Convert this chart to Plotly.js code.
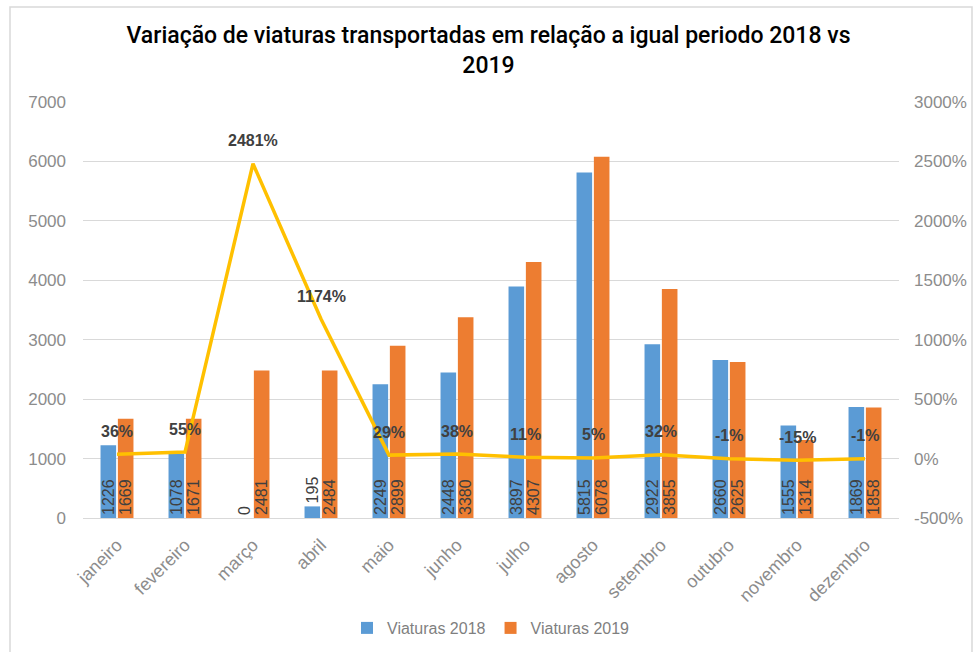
<!DOCTYPE html>
<html>
<head>
<meta charset="utf-8">
<script src="https://cdn.plot.ly/plotly-3.0.1.min.js"></script>
<style>
html,body{margin:0;padding:0;background:#fff;}
#chart{width:977px;height:652px;}
</style>
</head>
<body>
<div id="chart"></div>
<script>
const months = ["janeiro","fevereiro","março","abril","maio","junho","julho","agosto","setembro","outubro","novembro","dezembro"];
const viaturas2018 = [1226,1078,0,195,2249,2448,3897,5815,2922,2660,1555,1869];
const viaturas2019 = [1669,1671,2481,2484,2899,3380,4307,6078,3855,2625,1314,1858];
const variacaoPct = [36,55,2481,1174,29,38,11,5,32,-1,-15,-1];
const leftTicks = [0,1000,2000,3000,4000,5000,6000,7000];
const rightTicks = [-500,0,500,1000,1500,2000,2500,3000];

const W = 977, H = 652;
const margin = {l:83, r:78, t:102, b:134, autoexpand:false};
const pw = W - margin.l - margin.r, ph = H - margin.t - margin.b;
const px2x = p => (p - margin.l) / pw;
const py2y = p => 1 - (p - margin.t) / ph;

const lblColor = '#404040';
const tickColor = '#8c8c8c';

const pos2018 = viaturas2018.map(v => v < 400 ? 'outside' : 'inside');

const traces = [
  {
    type:'bar', name:'Viaturas 2018', x:months, y:viaturas2018,
    marker:{color:'#5B9BD5'},
    text:viaturas2018.map(String), textposition:pos2018, textangle:-90,
    insidetextanchor:'start', constraintext:'none', cliponaxis:false,
    textfont:{family:'Liberation Sans, Arial, sans-serif', size:16, color:lblColor},
    hoverinfo:'none'
  },
  {
    type:'bar', name:'Viaturas 2019', x:months, y:viaturas2019,
    marker:{color:'#ED7D31'},
    text:viaturas2019.map(String), textposition:'inside', textangle:-90,
    insidetextanchor:'start', constraintext:'none', cliponaxis:false,
    textfont:{family:'Liberation Sans, Arial, sans-serif', size:16, color:lblColor},
    hoverinfo:'none'
  },
  {
    type:'scatter', mode:'lines', name:'Variação', x:months, y:variacaoPct, yaxis:'y2',
    line:{color:'#FFC000', width:3.5}, showlegend:false, hoverinfo:'none', cliponaxis:false
  }
];

const annotations = months.map((m,i) => ({
  x:m, y:variacaoPct[i], xref:'x', yref:'y2', yshift:23,
  text:variacaoPct[i] + '%', showarrow:false,
  font:{family:'Liberation Sans, Arial, sans-serif', size:16, color:lblColor, weight:'bold'}
}));

const layout = {
  width:W, height:H, margin:margin,
  paper_bgcolor:'#fff', plot_bgcolor:'#fff',
  title:{text:'Variação de viaturas transportadas em relação a igual periodo 2018 vs<br>2019',
    font:{family:'Roboto, Liberation Sans, Arial, sans-serif', size:23, color:'#000', weight:500},
    x:0.5, xanchor:'center', y:1 - 43/H, yanchor:'middle'},
  barmode:'group', bargap:0.49, bargroupgap:0.1,
  showlegend:true,
  legend:{orientation:'h', x:0.5, xanchor:'center', y:py2y(628), yanchor:'middle',
    font:{family:'Liberation Sans, Arial, sans-serif', size:16, color:'#7f7f7f'},
    itemwidth:30, traceorder:'normal'},
  xaxis:{tickangle:-45, showgrid:false, showline:false, ticks:'', automargin:false,
    ticklabelstandoff:12,
    tickfont:{family:'Liberation Sans, Arial, sans-serif', size:18, color:tickColor}},
  yaxis:{range:[0,7000], tickvals:leftTicks, ticktext:leftTicks.map(String), automargin:false,
    showgrid:true, gridcolor:'#d9d9d9', gridwidth:1, zeroline:true, zerolinecolor:'#d9d9d9',
    ticks:'', ticklabelstandoff:16, showline:false,
    tickfont:{family:'Liberation Sans, Arial, sans-serif', size:17, color:tickColor}},
  yaxis2:{range:[-500,3000], overlaying:'y', side:'right', tickvals:rightTicks, automargin:false,
    ticktext:rightTicks.map(v => v + '%'), showgrid:false, zeroline:false, ticks:'',
    ticklabelstandoff:14, showline:false,
    tickfont:{family:'Liberation Sans, Arial, sans-serif', size:17, color:tickColor}},
  annotations:annotations,
  shapes:[{type:'rect', xref:'paper', yref:'paper',
    x0:px2x(10), x1:px2x(972), y0:py2y(670), y1:py2y(7),
    line:{color:'#d9d9d9', width:1.5}, fillcolor:'rgba(0,0,0,0)', layer:'below'}]
};

Plotly.newPlot('chart', traces, layout, {displayModeBar:false, staticPlot:true});
</script>
</body>
</html>
